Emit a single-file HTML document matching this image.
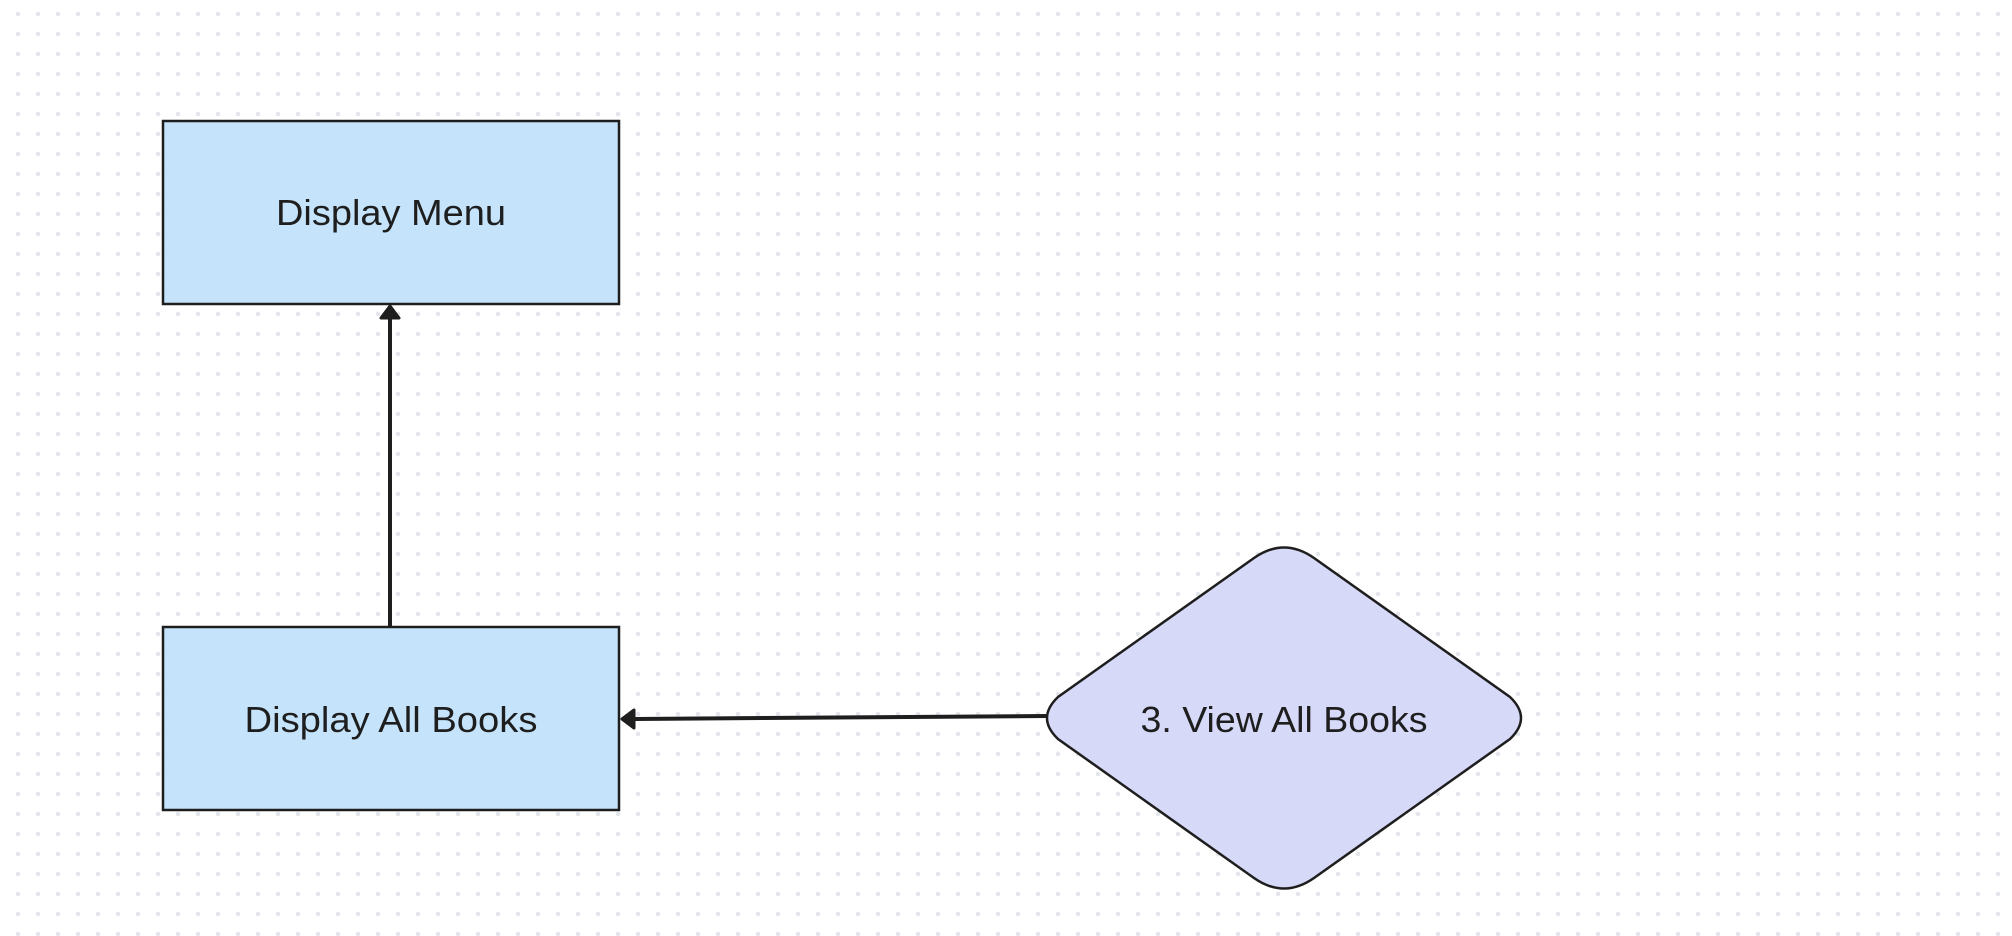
<!DOCTYPE html>
<html><head><style>
body{margin:0;width:2012px;height:936px;overflow:hidden;background:#fff;
background-image:radial-gradient(circle,#e2e5ea 2px,transparent 2.5px);background-size:20px 20px;background-position:8px 4px;font-family:"Liberation Sans",sans-serif;}
</style></head><body>
<svg width="2012" height="936" style="position:absolute;left:0;top:0">
<rect x="163" y="121" width="456" height="183" fill="#c5e3fa" stroke="#1e1e1e" stroke-width="2.5"/>
<rect x="163" y="627" width="456" height="183" fill="#c5e3fa" stroke="#1e1e1e" stroke-width="2.5"/>
<path d="M1254 558 Q1284 537 1314 558 L1510 697 Q1532 718 1510 739 L1314 878 Q1284 899 1254 878 L1058 739 Q1036 718 1058 697 Z" fill="#d7d9f9" stroke="#1e1e1e" stroke-width="2.5"/>
<line x1="390" y1="626" x2="390" y2="312" stroke="#1e1e1e" stroke-width="4"/>
<path d="M381 318 L390 306 L399 318 Z" fill="#1e1e1e" stroke="#1e1e1e" stroke-width="3" stroke-linejoin="round"/>
<line x1="1046" y1="716" x2="628" y2="719" stroke="#1e1e1e" stroke-width="4"/>
<path d="M634 710 L622 719 L634 728 Z" fill="#1e1e1e" stroke="#1e1e1e" stroke-width="3" stroke-linejoin="round"/>
<g font-family="Liberation Sans, sans-serif" font-size="36" fill="#1e1e1e" text-anchor="middle" textLength="">
<text x="391" y="225" textLength="230" lengthAdjust="spacingAndGlyphs">Display Menu</text>
<text x="391" y="732" textLength="293" lengthAdjust="spacingAndGlyphs">Display All Books</text>
<text x="1284" y="732" textLength="287" lengthAdjust="spacingAndGlyphs">3. View All Books</text>
</g>
</svg>
</body></html>
